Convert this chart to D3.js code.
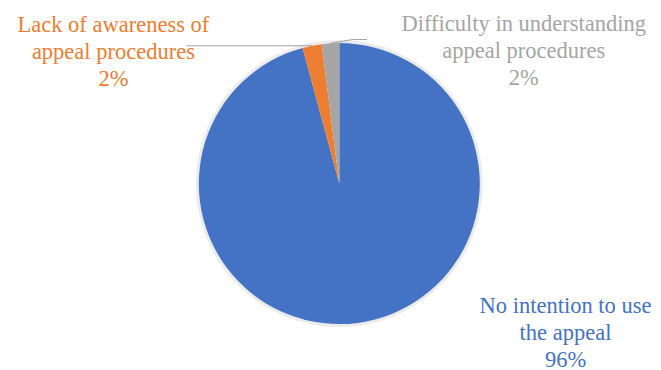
<!DOCTYPE html>
<html>
<head>
<meta charset="utf-8">
<script src="https://cdn.jsdelivr.net/npm/d3@7"></script>
</head>
<body style="margin:0">
<script>
// data
const categories = ["No intention to use the appeal", "Lack of awareness of appeal procedures", "Difficulty in understanding appeal procedures"];
const values = [95.8, 2.2, 2.0];
const pctLabels = ["96%", "2%", "2%"];
const labelLines = [
  ["No intention to use", "the appeal"],
  ["Lack of awareness of", "appeal procedures"],
  ["Difficulty in understanding", "appeal procedures"]
];
const colors = ["#4472C4", "#ED7D31", "#A5A5A5"];

const width = 661, height = 370;
const cx = 339.3, cy = 183.6, r = 140.5;

const svg = d3.select("body").append("svg")
  .attr("width", width)
  .attr("height", height)
  .attr("font-family", "Times New Roman");

const pie = d3.pie().sort(null).value(d => d);
const arcs = pie(values);
const arc = d3.arc().innerRadius(0).outerRadius(r);

const g = svg.append("g").attr("transform", `translate(${cx},${cy})`);

// faint halo for the soft shadow
g.append("circle").attr("r", r + 1.5).attr("fill", "none")
  .attr("stroke", "#000").attr("stroke-opacity", 0.08).attr("stroke-width", 3);

g.selectAll("path")
  .data(arcs)
  .enter()
  .append("path")
  .attr("d", arc)
  .attr("fill", (d, i) => colors[i]);

// leader lines for the two small slices
const outer = d3.arc().innerRadius(r).outerRadius(r);
const p1 = outer.centroid(arcs[1]);
const p2 = outer.centroid(arcs[2]);
g.append("polyline")
  .attr("points", [[p1[0], p1[1]], [186 - cx, p1[1]]].map(p => p.join(",")).join(" "))
  .attr("fill", "none").attr("stroke", "#A5A5A5").attr("stroke-width", 1.2);
g.append("polyline")
  .attr("points", [[p2[0], p2[1]], [353 - cx, 39.5 - cy], [367 - cx, 39.5 - cy]].map(p => p.join(",")).join(" "))
  .attr("fill", "none").attr("stroke", "#A5A5A5").attr("stroke-width", 1.2);

// labels
const labelPos = [
  { x: 565.5, y: 312.5 },
  { x: 113.4, y: 32.3 },
  { x: 523.8, y: 31 }
];
const lineH = 27;

labelLines.forEach((lines, i) => {
  svg.selectAll(null)
    .data(lines.concat([pctLabels[i]]))
    .enter()
    .append("text")
    .attr("x", labelPos[i].x)
    .attr("y", (d, j) => labelPos[i].y + j * lineH)
    .attr("text-anchor", "middle")
    .attr("font-family", "Times New Roman")
    .attr("font-size", 22.5)
    .attr("fill", colors[i])
    .text(d => d);
});
</script>
</body>
</html>
